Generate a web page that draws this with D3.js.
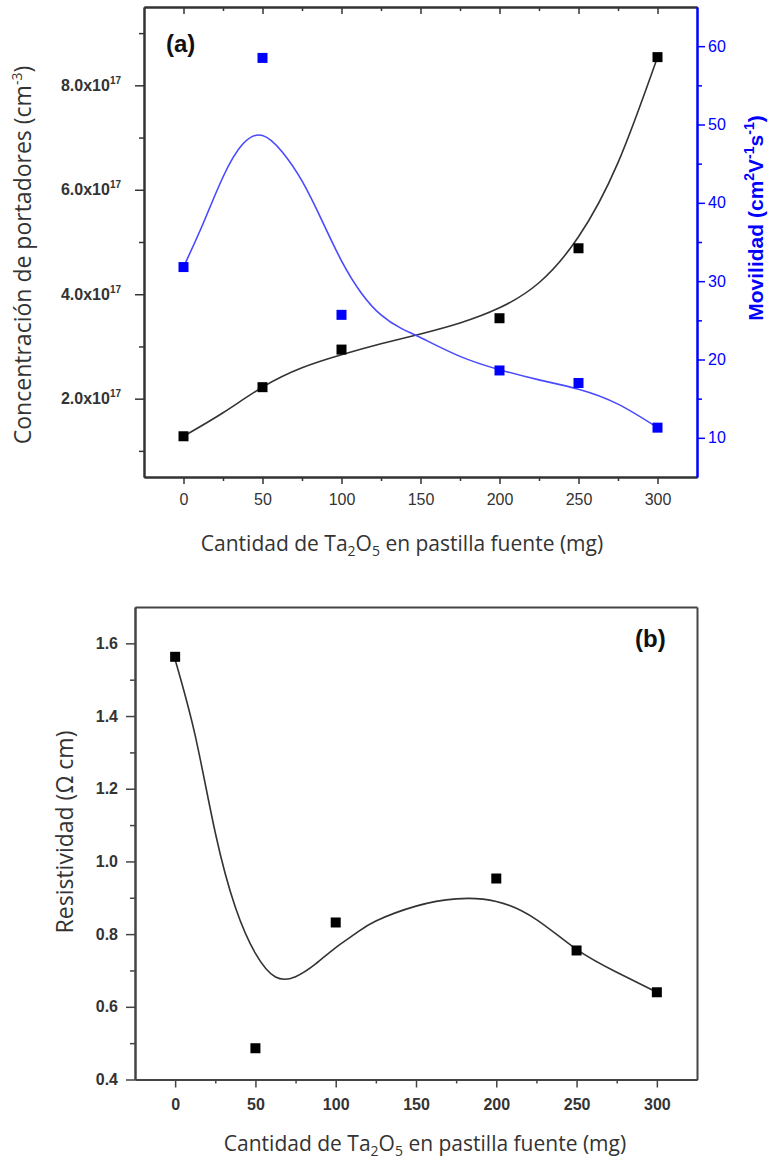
<!DOCTYPE html>
<html>
<head>
<meta charset="utf-8">
<script src="https://cdn.jsdelivr.net/npm/d3@7"></script>
<style>
  body { margin: 0; background: #fff; }
</style>
</head>
<body>
<script>
'use strict';

// measured points
var cantidad      = [0, 50, 100, 200, 250, 300];
var concentracion = [1.28e17, 2.22e17, 2.94e17, 3.54e17, 4.88e17, 8.54e17];
var movilidad     = [31.8, 58.5, 25.7, 18.6, 17.0, 11.3];
var resistividad  = [1.563, 0.486, 0.832, 0.953, 0.755, 0.64];

// fitted curves
var ajusteConcX = [0, 25, 50, 75, 100, 125, 150, 175, 200, 225, 250, 275, 300];
var ajusteConcY = [1.28e17, 1.73e17, 2.22e17, 2.59e17, 2.84e17, 3.05e17, 3.24e17, 3.45e17, 3.74e17, 4.22e17, 5.1e17, 6.52e17, 8.54e17];
var ajusteMovX  = [0, 12.5, 25, 37.5, 50, 62.5, 75, 87.5, 100, 112.5, 125, 137.5, 150, 175, 200, 225, 250, 275, 300];
var ajusteMovY  = [31.8, 37.4, 43.3, 47.5, 48.6, 46.5, 42.8, 37.8, 32.6, 28.5, 25.7, 24.0, 22.8, 20.4, 18.7, 17.4, 16.2, 14.3, 11.3];
var ajusteResX  = [0, 12.5, 25, 37.5, 50, 62.5, 75, 87.5, 100, 112.5, 125, 150, 175, 200, 225, 250, 275, 300];
var ajusteResY  = [1.555, 1.346, 1.079, 0.874, 0.747, 0.682, 0.683, 0.718, 0.763, 0.802, 0.836, 0.877, 0.897, 0.89, 0.84, 0.758, 0.695, 0.64];

// ticks
var xMayores    = [0, 50, 100, 150, 200, 250, 300];
var xMenores    = [25, 75, 125, 175, 225, 275];
var concMayores = [2e17, 4e17, 6e17, 8e17];
var concMenores = [1e17, 3e17, 5e17, 7e17, 9e17];
var movMayores  = [10, 20, 30, 40, 50, 60];
var movMenores  = [15, 25, 35, 45, 55];
var resMayores  = [0.4, 0.6, 0.8, 1.0, 1.2, 1.4, 1.6];
var resMenores  = [0.5, 0.7, 0.9, 1.1, 1.3, 1.5];

var AZUL = "#0000ff";
var tickFont = "'Liberation Sans', Arial, sans-serif";
var titleFont = "'Open Sans', 'Noto Sans', sans-serif";

var svg = d3.select("body").append("svg")
  .attr("width", 770)
  .attr("height", 1161);

function zip(xs, ys) {
  return xs.map(function(v, i) { return [v, ys[i]]; });
}

function styleAxis(g, color, bold) {
  g.select(".domain").attr("stroke", color).attr("stroke-width", 2);
  g.selectAll(".tick line").attr("stroke", color).attr("stroke-width", 1.5);
  g.selectAll(".tick text")
    .attr("fill", color === AZUL ? AZUL : "#333")
    .attr("font-family", tickFont)
    .attr("font-size", "16px")
    .attr("font-weight", bold ? "bold" : "normal");
}

function xTitle(g, x, y) {
  var t = g.append("text")
    .attr("x", x).attr("y", y)
    .attr("text-anchor", "middle")
    .attr("font-family", titleFont)
    .attr("font-size", "21px")
    .attr("fill", "#333");
  t.append("tspan").text("Cantidad de Ta");
  t.append("tspan").attr("font-size", "14px").attr("dy", 5).text("2");
  t.append("tspan").attr("dy", -5).text("O");
  t.append("tspan").attr("font-size", "14px").attr("dy", 5).text("5");
  t.append("tspan").attr("dy", -5).text(" en pastilla fuente (mg)");
}

var curva = d3.curveNatural;

// ---------------- (a) ----------------
var xA = d3.scaleLinear().domain([-25, 325]).range([144, 697]);
var yConc = d3.scaleLinear().domain([0.5e17, 9.5e17]).range([477, 7]);
var yMov = d3.scaleLinear().domain([5, 65]).range([477, 7]);

var gA = svg.append("g");

// bottom
gA.append("g").attr("transform", "translate(0,477)")
  .call(d3.axisBottom(xA).tickValues(xMenores).tickSize(4).tickSizeOuter(0).tickFormat(""))
  .call(styleAxis, "#333", false);
gA.append("g").attr("transform", "translate(0,477)")
  .call(d3.axisBottom(xA).tickValues(xMayores).tickSize(7).tickSizeOuter(0).tickPadding(10))
  .call(styleAxis, "#333", false);
// top, ticks inward
gA.append("g").attr("transform", "translate(0,7)")
  .call(d3.axisBottom(xA).tickValues(xMenores).tickSize(4).tickSizeOuter(0).tickFormat(""))
  .call(styleAxis, "#333", false);
gA.append("g").attr("transform", "translate(0,7)")
  .call(d3.axisBottom(xA).tickValues(xMayores).tickSize(7).tickSizeOuter(0).tickFormat(""))
  .call(styleAxis, "#333", false);
// left
gA.append("g").attr("transform", "translate(144,0)")
  .call(d3.axisLeft(yConc).tickValues(concMenores).tickSize(5).tickSizeOuter(0).tickFormat(""))
  .call(styleAxis, "#333", true);
var ejeConc = gA.append("g").attr("transform", "translate(144,0)")
  .call(d3.axisLeft(yConc).tickValues(concMayores).tickSize(9).tickSizeOuter(0).tickPadding(14))
  .call(styleAxis, "#333", true);
ejeConc.selectAll(".tick text").each(function(d) {
  var t = d3.select(this).text(null);
  t.append("tspan").text((d / 1e17).toFixed(1) + "x10");
  t.append("tspan").attr("font-size", "10px").attr("dy", -7).text("17");
});
// right (blue)
gA.append("g").attr("transform", "translate(697,0)")
  .call(d3.axisRight(yMov).tickValues(movMenores).tickSize(5).tickSizeOuter(0).tickFormat(""))
  .call(styleAxis, AZUL, false);
gA.append("g").attr("transform", "translate(697,0)")
  .call(d3.axisRight(yMov).tickValues(movMayores).tickSize(8).tickSizeOuter(0).tickPadding(3))
  .call(styleAxis, AZUL, false);

// curves
gA.append("path")
  .datum(zip(ajusteConcX, ajusteConcY))
  .attr("fill", "none").attr("stroke", "#333").attr("stroke-width", 1.6)
  .attr("d", d3.line().curve(curva)
    .x(function(d) { return xA(d[0]); })
    .y(function(d) { return yConc(d[1]); }));
gA.append("path")
  .datum(zip(ajusteMovX, ajusteMovY))
  .attr("fill", "none").attr("stroke", "#4a4aff").attr("stroke-width", 1.6)
  .attr("d", d3.line().curve(curva)
    .x(function(d) { return xA(d[0]); })
    .y(function(d) { return yMov(d[1]); }));

// points
gA.selectAll("rect.conc")
  .data(zip(cantidad, concentracion))
  .enter().append("rect")
  .attr("class", "conc")
  .attr("x", function(d) { return xA(d[0]) - 5; })
  .attr("y", function(d) { return yConc(d[1]) - 5; })
  .attr("width", 10).attr("height", 10)
  .attr("fill", "#000");
gA.selectAll("rect.mov")
  .data(zip(cantidad, movilidad))
  .enter().append("rect")
  .attr("class", "mov")
  .attr("x", function(d) { return xA(d[0]) - 5; })
  .attr("y", function(d) { return yMov(d[1]) - 5; })
  .attr("width", 10).attr("height", 10)
  .attr("fill", AZUL);

gA.append("text")
  .attr("x", 166).attr("y", 52)
  .attr("font-family", tickFont).attr("font-weight", "bold").attr("font-size", "24px")
  .attr("fill", "#111")
  .text("(a)");

xTitle(gA, 402, 551);

var tConc = gA.append("text")
  .attr("transform", "translate(31,255) rotate(-90)")
  .attr("text-anchor", "middle")
  .attr("font-family", titleFont).attr("font-size", "23px").attr("fill", "#333");
tConc.append("tspan").text("Concentración de portadores (cm");
tConc.append("tspan").attr("font-size", "14px").attr("dy", -9).text("-3");
tConc.append("tspan").attr("dy", 9).text(")");

var tMov = gA.append("text")
  .attr("transform", "translate(763,218) rotate(-90)")
  .attr("text-anchor", "middle")
  .attr("font-family", tickFont).attr("font-size", "21px").attr("font-weight", "bold")
  .attr("fill", AZUL);
tMov.append("tspan").text("Movilidad (cm");
tMov.append("tspan").attr("font-size", "14px").attr("dy", -9).text("2");
tMov.append("tspan").attr("dy", 9).text("V");
tMov.append("tspan").attr("font-size", "14px").attr("dy", -9).text("-1");
tMov.append("tspan").attr("dy", 9).text("s");
tMov.append("tspan").attr("font-size", "14px").attr("dy", -9).text("-1");
tMov.append("tspan").attr("dy", 9).text(")");

// ---------------- (b) ----------------
var xB = d3.scaleLinear().domain([-25, 325]).range([135, 697]);
var yRes = d3.scaleLinear().domain([0.4, 1.7]).range([1079.5, 607]);

var gB = svg.append("g");

gB.append("g").attr("transform", "translate(0,1079.5)")
  .call(d3.axisBottom(xB).tickValues(xMenores).tickSize(4).tickSizeOuter(0).tickFormat(""))
  .call(styleAxis, "#444", true);
gB.append("g").attr("transform", "translate(0,1079.5)")
  .call(d3.axisBottom(xB).tickValues(xMayores).tickSize(8).tickSizeOuter(0).tickPadding(11))
  .call(styleAxis, "#444", true);
gB.append("g").attr("transform", "translate(135,0)")
  .call(d3.axisLeft(yRes).tickValues(resMenores).tickSize(5).tickSizeOuter(0).tickFormat(""))
  .call(styleAxis, "#444", true);
gB.append("g").attr("transform", "translate(135,0)")
  .call(d3.axisLeft(yRes).tickValues(resMayores).tickSize(9).tickSizeOuter(0).tickPadding(8)
    .tickFormat(d3.format(".1f")))
  .call(styleAxis, "#444", true);
// top and right frame lines, no ticks
gB.append("g").attr("transform", "translate(0,607)")
  .call(d3.axisTop(xB).tickValues([]).tickSizeOuter(0))
  .call(styleAxis, "#444", true);
gB.append("g").attr("transform", "translate(697,0)")
  .call(d3.axisRight(yRes).tickValues([]).tickSizeOuter(0))
  .call(styleAxis, "#444", true);

gB.append("path")
  .datum(zip(ajusteResX, ajusteResY))
  .attr("fill", "none").attr("stroke", "#333").attr("stroke-width", 1.6)
  .attr("d", d3.line().curve(curva)
    .x(function(d) { return xB(d[0]); })
    .y(function(d) { return yRes(d[1]); }));

gB.selectAll("rect.res")
  .data(zip(cantidad, resistividad))
  .enter().append("rect")
  .attr("class", "res")
  .attr("x", function(d) { return xB(d[0]) - 5; })
  .attr("y", function(d) { return yRes(d[1]) - 5; })
  .attr("width", 10).attr("height", 10)
  .attr("fill", "#000");

gB.append("text")
  .attr("x", 635).attr("y", 647)
  .attr("font-family", tickFont).attr("font-weight", "bold").attr("font-size", "24px")
  .attr("fill", "#111")
  .text("(b)");

xTitle(gB, 425, 1151);

gB.append("text")
  .attr("transform", "translate(73,832) rotate(-90)")
  .attr("text-anchor", "middle")
  .attr("font-family", titleFont).attr("font-size", "23px").attr("fill", "#333")
  .text("Resistividad (Ω cm)");
</script>
</body>
</html>
